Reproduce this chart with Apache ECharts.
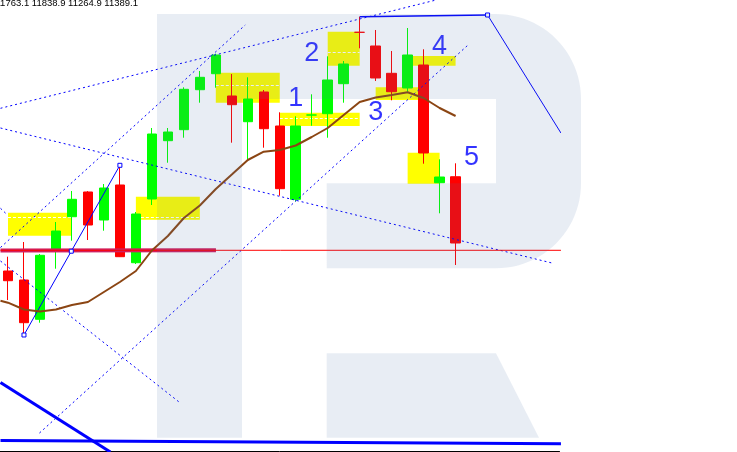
<!DOCTYPE html>
<html><head><meta charset="utf-8">
<style>html,body{margin:0;padding:0;background:#fff;overflow:hidden}#c{width:737px;height:452px}</style>
<script src="https://cdn.jsdelivr.net/npm/echarts@6/dist/echarts.min.js"></script>
</head><body><div id="c"></div>
<script>
// ---------- data (prices) ----------
const headerText = '11763.1 11838.9 11264.9 11389.1';
const slotLabels = Array.from({length: 35}, (_, i) => 'T' + i);
const opens  = [11231.1,11180.3,10958.5,11344.0,11537.5,11677.0,11518.9,11716.5,11277.9,11637.4,11966.5,12028.6,12254.3,12344.6,12218.8,12073.7,12241.4,12049.5,11635.7,12111.5,12118.9,12288.2,12578.3,12501.0,12346.9,12263.9,12393.7,11729.4,11763.1];
const closes = [11176.3,10939.3,11319.7,11456.8,11635.7,11490.7,11699.5,11311.8,11552.8,12004.3,12015.6,12256.6,12324.3,12450.2,12169.7,12201.8,12034.2,11695.6,12049.5,12111.5,12309.1,12399.4,12578.3,12320.4,12243.0,12450.2,11897.1,11761.6,11389.1];
const lows   = [11067.4,10869.9,10939.3,11244.1,11402.1,11406.0,11458.5,11310.0,11270.6,11603.6,11842.3,11983.4,12181.0,12265.6,11955.2,11851.9,11927.0,11656.1,11624.5,12051.1,11983.4,12181.0,12488.0,12303.4,12194.5,12243.0,11836.7,11556.7,11264.9];
const highs  = [11311.8,11394.8,11327.0,11507.6,11682.6,11682.0,11722.1,11827.6,11564.0,12038.2,12038.2,12267.9,12359.9,12458.0,12342.9,12324.3,12252.6,12126.8,12104.2,12228.4,12442.8,12416.3,12666.3,12591.3,12472.8,12602.6,12482.4,11861.5,11838.9];
const redDoji = [22];
const maLeftEdge = [-0.469, 11063.4];
const maValues = [11052.2,11013.8,11002.5,11013.8,11039.2,11056.1,11112.6,11169.0,11231.1,11346.8,11428.6,11530.2,11600.8,11693.9,11775.7,11857.6,11904.4,11914.0,11939.4,11987.4,12038.2,12111.5,12184.9,12210.3,12224.4,12239.7,12207.5,12151.0,12105.9];
// boxes: [fromSlot, toSlot, topPrice, bottomPrice]
const boxes = [[0,4,11560.1,11430.3],[8,12,11650.4,11520.6],[13,17,12350.3,12181.0],[17,22,12124.5,12049.5],[20,22,12581.7,12389.8],[23,26,12267.9,12196.2],[25,28,12444.5,12389.8],[25,27,11898.8,11723.8]];
const boxMidlines = [11534.2,11534.2,12279.2,12091.8,12465.4,null,null,null];
// dotted trend lines [slot, price]
const lineA = [[-0.469,11363.7],[14.84,12619.5]];
const lineB = [[1.969,10316.7],[28.78,12506.6]];
const lineC = [[-0.469,12038.2],[34.03,11276.2]];
const lineD = [[-0.469,12149.4],[26.78,12760.6]];
const lineE = [[-0.469,11287.5],[10.78,10486.1]];
const lineF = [[-0.469,11585.0],[-0.031,11547.1]];
// solid lines
const zigzag = [[1,10869.9],[3.96,11342.8],[7,11827.6]];
const topLevel = [[22,12666.3],[30,12675.9]];
const topDrop = [[30,12675.9],[34.59,12009.9]];
const redLevel = [[-0.469,11347.9],[34.59,11347.9]];
const levelBand = [[-0.469,11346.5],[13.01,11348.5]];
const bottomFlat = [[-0.469,10274.4],[34.59,10256.3]];
const bottomDiag = [[-0.469,10601.8],[6.406,10209.5]];
// wave labels [slot, price, text]
const waveLabels = [[18,12201.8,'1'],[19,12459.8,'2'],[23,12127.3,'3'],[27,12495.3,'4'],[29,11873.4,'5']];

// ---------- watermark outline (decoration) ----------
function arcPts(cx, cy, r, a0, a1, n) {
  const pts = [];
  for (let k = 0; k <= n; k++) {
    const a = a0 + (a1 - a0) * k / n;
    pts.push([cx + r * Math.cos(a), cy + r * Math.sin(a)]);
  }
  return pts;
}
const logoBody = [[157,14],[496,14]]
  .concat(arcPts(496, 99, 85, -Math.PI / 2, 0, 24))
  .concat(arcPts(496, 183.3, 85, 0, Math.PI / 2, 24))
  .concat([[326.7,268.3],[326.7,183.3],[496,183.3],[496,99],[242,99],[242,437.7],[157,437.7]]);
const logoLeg = [[326.7,353.3],[496,353.3],[539,437.7],[326.7,437.7]];

// ---------- chart ----------
const chart = echarts.init(document.getElementById('c'), null, {renderer: 'canvas'});
const candleData = opens.map((o, i) => {
  const v = [o, closes[i], lows[i], highs[i]];
  if (redDoji.includes(i)) {
    return {value: v, itemStyle: {color: '#FF0000', color0: '#FF0000', borderColor: '#FF0000', borderColor0: '#FF0000', borderColorDoji: '#FF0000'}};
  }
  return v;
});
const maData = [maLeftEdge].concat(maValues.map((v, i) => [i, v]));

function lineSeries(data, color, width, type, z, extra) {
  return Object.assign({
    type: 'line', xAxisIndex: 1, yAxisIndex: 0, data: data, symbol: 'none', clip: false,
    lineStyle: {color: color, width: width, type: type}, z: z, silent: true, animation: false
  }, extra || {});
}
const dot = [2, 3];
const squareMark = {symbol: 'rect', symbolSize: 4, showSymbol: true, itemStyle: {color: '#FFFFFF', borderColor: '#0000FF', borderWidth: 1}};

const option = {
  backgroundColor: '#ffffff',
  animation: false,
  grid: {left: -0.5, top: 0, width: 560, height: 451, containLabel: false},
  xAxis: [
    {type: 'category', data: slotLabels, boundaryGap: true,
     axisLine: {show: true, onZero: false, lineStyle: {color: '#000', width: 1}},
     axisTick: {show: false}, axisLabel: {show: false}, splitLine: {show: false}},
    {type: 'value', min: -0.5, max: 34.5, show: false, splitLine: {show: false}}
  ],
  yAxis: {type: 'value', min: 10215.2, max: 12760.6, show: false, splitLine: {show: false}, scale: true},
  series: [
    {type: 'custom', xAxisIndex: 1, yAxisIndex: 0, data: boxes, z: 1, silent: true,
     renderItem: function (params, api) {
       const a = api.coord([api.value(0), api.value(2)]);
       const b = api.coord([api.value(1), api.value(3)]);
       const children = [{type: 'rect', shape: {x: a[0], y: a[1], width: b[0] - a[0], height: b[1] - a[1]}, style: {fill: '#FFFF00'}}];
       const m = boxMidlines[params.dataIndex];
       if (m != null) {
         const c = api.coord([api.value(0), m]);
         const yy = Math.round(c[1]) + 0.5;
         children.push({type: 'line', shape: {x1: a[0], y1: yy, x2: b[0], y2: yy}, style: {stroke: '#FFFFFF', lineWidth: 1, lineDash: [3, 2]}});
       }
       return {type: 'group', children: children};
     }},
    {type: 'candlestick', xAxisIndex: 0, yAxisIndex: 0, data: candleData, barWidth: 10, z: 3, silent: true,
     itemStyle: {color: '#00FF00', color0: '#FF0000', borderColor: '#00FF00', borderColor0: '#FF0000', borderColorDoji: '#00FF00', borderWidth: 1}},
    lineSeries(lineA, '#0000FF', 1, dot, 4),
    lineSeries(lineB, '#0000FF', 1, dot, 4),
    lineSeries(lineC, '#0000FF', 1, dot, 4),
    lineSeries(lineD, '#0000FF', 1, dot, 4),
    lineSeries(lineE, '#0000FF', 1, dot, 4),
    lineSeries(lineF, '#0000FF', 1, dot, 4),
    lineSeries(levelBand, '#D0205E', 4, 'solid', 5),
    lineSeries(redLevel, '#FF0000', 1, 'solid', 5),
    lineSeries(bottomFlat, '#0000FF', 3, 'solid', 5),
    lineSeries(bottomDiag, '#0000FF', 3, 'solid', 5),
    lineSeries(zigzag, '#0000FF', 1, 'solid', 6, squareMark),
    lineSeries(topLevel, '#0000FF', 1.5, 'solid', 6),
    lineSeries([{value: topDrop[0]}, {value: topDrop[1], symbol: 'none'}], '#0000FF', 1, 'solid', 6, squareMark),
    lineSeries(maData, '#8B4513', 2, 'solid', 7),
    {type: 'scatter', xAxisIndex: 1, yAxisIndex: 0, data: waveLabels, symbolSize: 1, z: 8, silent: true,
     itemStyle: {color: 'rgba(0,0,0,0)'},
     label: {show: true, position: 'inside', formatter: p => p.value[2], fontSize: 27, fontFamily: 'Liberation Sans', color: '#0000FF'}}
  ],
  graphic: [
    {type: 'text', x: 138, y: 8, z: 100, silent: true,
     style: {text: headerText, fontSize: 9.5, fontFamily: 'Liberation Sans', fill: '#000000', align: 'right', verticalAlign: 'bottom'}},
    {type: 'polygon', z: 100, silent: true, shape: {points: logoBody}, style: {fill: 'rgba(78,117,170,0.13)'}},
    {type: 'polygon', z: 100, silent: true, shape: {points: logoLeg}, style: {fill: 'rgba(78,117,170,0.13)'}}
  ]
};
chart.setOption(option);
</script>
</body></html>
